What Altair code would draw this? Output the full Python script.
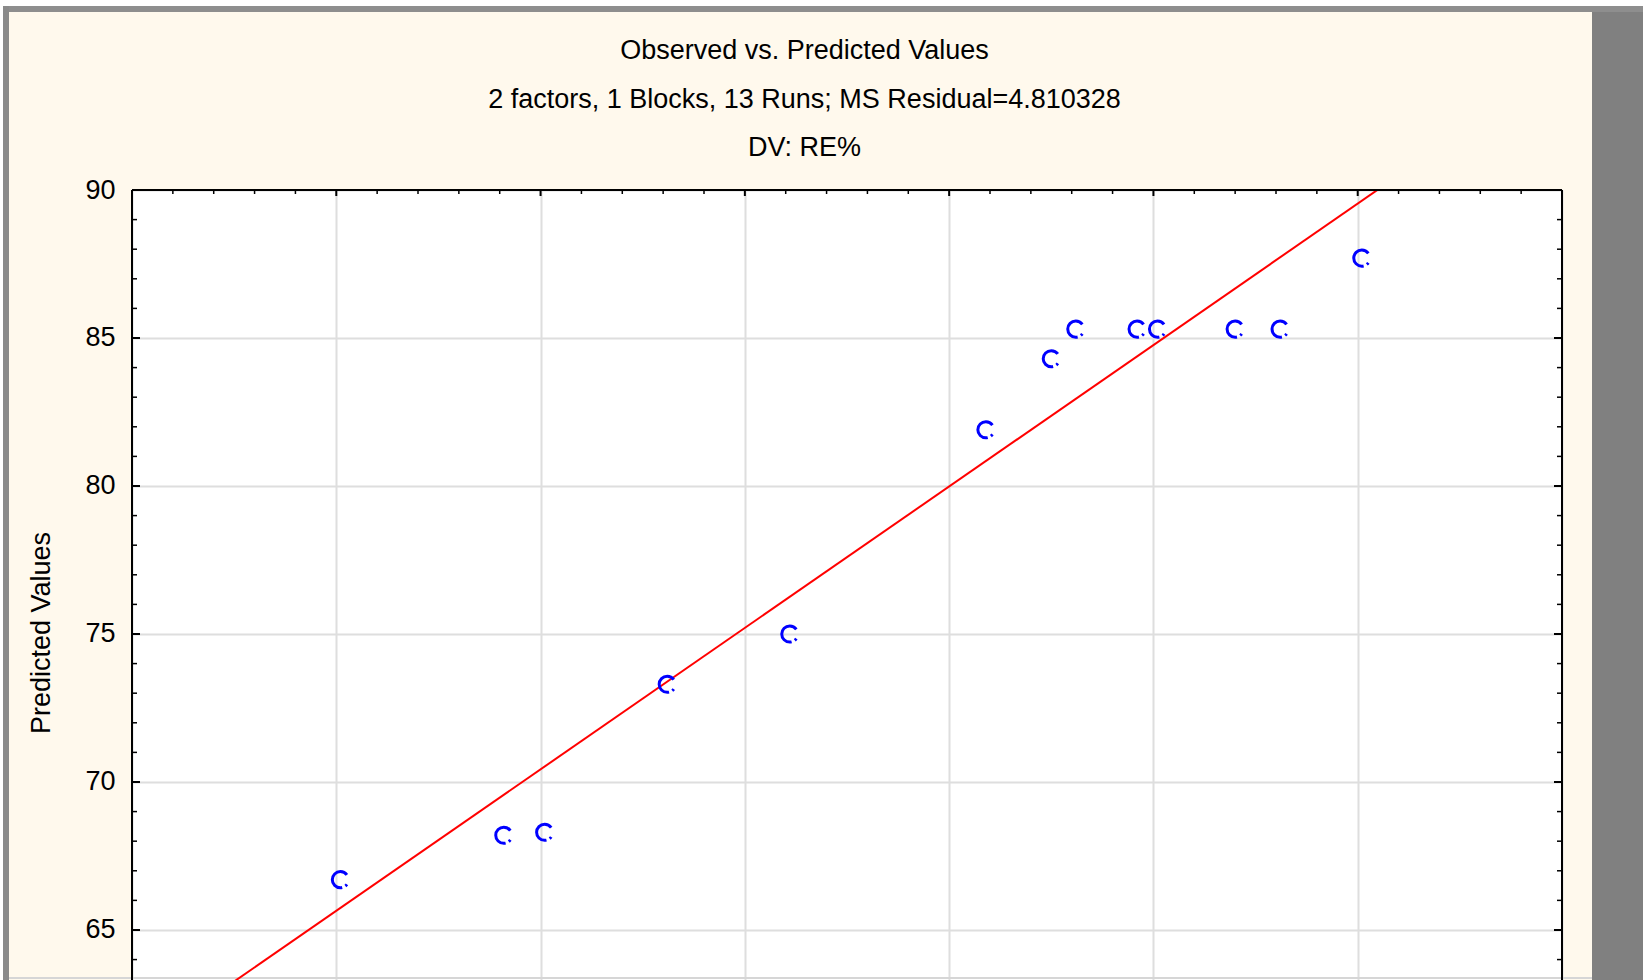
import altair as alt
import pandas as pd

# Observed vs. predicted RE% for the 13 runs of the design
observed = [65.1, 69.1, 70.1, 73.1, 76.1, 80.9, 82.5, 83.1, 84.6, 85.1, 87.0, 88.1, 90.1]
predicted = [66.7, 68.2, 68.3, 73.3, 75.0, 81.9, 84.3, 85.3, 85.3, 85.3, 85.3, 85.3, 87.7]

# Fitted line, given at both ends of the observed axis
fit_observed = [60.0, 95.0]
fit_predicted = [60.87, 94.32]

# Axis layout
x_domain = [60, 95]
y_domain = [63.31, 90]
x_grid = [60, 65, 70, 75, 80, 85, 90, 95]
y_grid = [65, 70, 75, 80, 85, 90]
x_minor = list(range(61, 95))
y_minor = list(range(64, 90))

title_lines = [
    "Observed vs. Predicted Values",
    "2 factors, 1 Blocks, 13 Runs; MS Residual=4.810328",
    "DV: RE%",
]
y_title = "Predicted Values"

FONT = "Liberation Sans"
CREAM = "#FFF9ED"
GRID = "#DEDEDE"
W, H = 1430, 790
PAD = {"left": 132, "top": 190, "right": 81, "bottom": 0}

pts = pd.DataFrame({"observed": observed, "predicted": predicted})
fit = pd.DataFrame({"observed": fit_observed, "predicted": fit_predicted})
one = pd.DataFrame({"k": [0]})

x_scale = alt.Scale(domain=x_domain, nice=False, zero=False)
y_scale = alt.Scale(domain=y_domain, nice=False, zero=False)

x_axis = alt.Axis(values=x_grid, grid=True, gridColor=GRID, gridWidth=2,
                  labels=False, ticks=False, domain=False, title=None)
y_axis = alt.Axis(values=y_grid, grid=True, gridColor=GRID, gridWidth=2,
                  ticks=False, tickSize=0, domain=False, title=None,
                  labelFont=FONT, labelFontSize=27, labelColor="black",
                  labelPadding=17)


def band(x0, x1, y0, y1, color):
    return alt.Chart(one).mark_rect(color=color).encode(
        x=alt.value(x0), x2=alt.value(x1), y=alt.value(y0), y2=alt.value(y1))


# window frame around the graph panel
frame = [
    band(-PAD["left"], W + PAD["right"], -PAD["top"], -184, "white"),
    band(-PAD["left"], -129, -PAD["top"], H, "white"),
    band(-129, W + PAD["right"], -184, -178, "#8E8E8E"),
    band(-129, -123, -184, H, "#8A8A8A"),
    band(1460, W + PAD["right"], -178, H, "#808080"),
    band(-123, 1460, H - 3, H - 1, "#D6D6D6"),
]


# plot box (left, top, right)
def edge(x0, x1, y0, y1):
    return alt.Chart(one).mark_rule(color="black", strokeWidth=2).encode(
        x=alt.value(x0), x2=alt.value(x1), y=alt.value(y0), y2=alt.value(y1))


box = [edge(0, 0, 0, H), edge(0, W, 0, 0), edge(W, W, 0, H)]

ymin = pd.DataFrame({"v": [v for v in y_minor if v % 5]})
ymaj = pd.DataFrame({"v": [v for v in y_minor if v % 5 == 0]})
xmin = pd.DataFrame({"v": [v for v in x_minor if v % 5]})
xmaj = pd.DataFrame({"v": [v for v in x_minor if v % 5 == 0]})


def yticks(df, x0, x1, w):
    return alt.Chart(df).mark_rule(color="black", strokeWidth=w).encode(
        y=alt.Y("v:Q", scale=y_scale, axis=y_axis), x=alt.value(x0), x2=alt.value(x1))


def xticks(df, y1, w):
    return alt.Chart(df).mark_rule(color="black", strokeWidth=w).encode(
        x=alt.X("v:Q", scale=x_scale, axis=x_axis), y=alt.value(0), y2=alt.value(y1))


ticks = [
    yticks(ymin, 0, 5, 1.5), yticks(ymaj, 0, 8, 2),
    yticks(ymin, W - 5, W, 1.5), yticks(ymaj, W - 8, W, 2),
    xticks(xmin, 4, 1.5), xticks(xmaj, 6, 2),
]

line = alt.Chart(fit).mark_line(color="#FF0000", strokeWidth=2, clip=True).encode(
    x=alt.X("observed:Q", scale=x_scale, axis=x_axis),
    y=alt.Y("predicted:Q", scale=y_scale, axis=y_axis),
)

# open circles, drawn as a broken ring with a dot at the lower right
points = alt.Chart(pts).mark_point(
    shape="circle", filled=False, size=260, strokeWidth=3, color="#0000FF",
    opacity=1, strokeDash=[0, 5.0, 2.2, 3.5, 34.6, 5.3],
).encode(
    x=alt.X("observed:Q", scale=x_scale, axis=x_axis),
    y=alt.Y("predicted:Q", scale=y_scale, axis=y_axis),
)

titles = alt.Chart(one).mark_text(
    font=FONT, fontSize=27, color="black", lineHeight=48.25,
    align="center", baseline="middle",
).encode(x=alt.value(672.5), y=alt.value(-138.65), text=alt.value(title_lines))

ytitle = alt.Chart(one).mark_text(
    font=FONT, fontSize=27, color="black", angle=270,
    align="center", baseline="middle",
).encode(x=alt.value(-90), y=alt.value(443), text=alt.value(y_title))

chart = alt.layer(
    *frame, line, points, *ticks, *box, titles, ytitle
).properties(
    width=W, height=H,
    autosize=alt.AutoSizeParams(type="none"),
    padding=PAD,
    background=CREAM,
).configure_view(stroke=None, fill="white")

chart.save("out.html", embed_options={"renderer": "svg", "actions": False})
